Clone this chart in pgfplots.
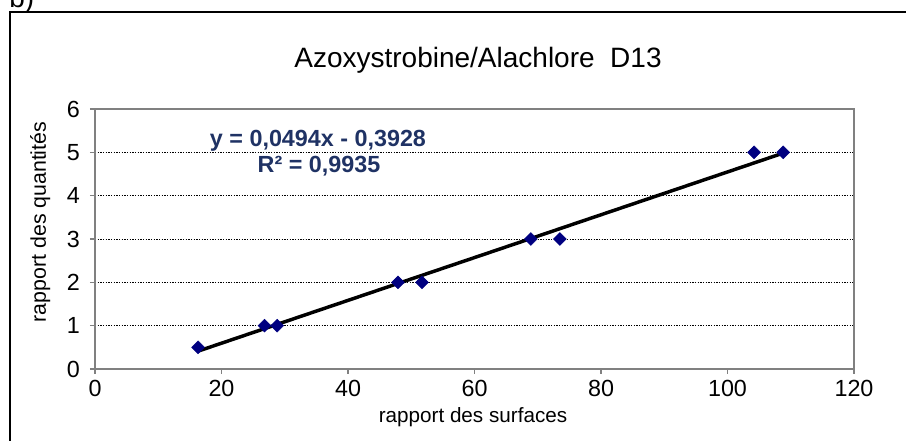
\documentclass[border=0pt]{standalone}
\usepackage{fontspec}
\setmainfont{Liberation Sans}
\usepackage{pgfplots}
\pgfplotsset{compat=1.18}
\definecolor{navy}{RGB}{0,0,128}
\definecolor{eqblue}{RGB}{31,50,100}
\definecolor{axgray}{RGB}{128,128,128}
\begin{document}
\begin{tikzpicture}
\path[use as bounding box] (0,0) rectangle (679.5pt,330.75pt);
\clip (0,0) rectangle (679.5pt,330.75pt);
\draw[black, line width=1pt] (10*0.75pt,429*0.75pt) rectangle (930*0.75pt,-20*0.75pt);
\node[anchor=base west, font=\fontsize{21}{24}\selectfont, inner sep=0pt] at (9*0.75pt,433*0.75pt) {b)};
\begin{axis}[
  at={(71.25pt,54pt)}, anchor=south west,
  scale only axis, width=569.25pt, height=195pt,
  xmin=0, xmax=120, ymin=0, ymax=6,
  xtick={0,20,...,120}, ytick={0,1,...,6},
  axis line style={draw=axgray, line width=1.2pt},
  tick style={draw=axgray, line width=0.8pt},
  major tick length=3.75pt, tick align=outside,
  xtick pos=bottom, ytick pos=left,
  ymajorgrids,
  major grid style={black, line width=0.5pt, dash pattern=on 1pt off 1pt},
  ticklabel style={font=\fontsize{17.5}{20}\selectfont},
  xticklabel style={yshift=-1pt},
  yticklabel style={xshift=-4pt},
  /pgf/number format/assume math mode=true,
  clip=false,
]
\addplot[only marks, mark=square*, mark size=3.4pt, mark options={rotate=45, fill=navy, draw=navy}]
coordinates {(16.3,0.5) (26.8,1) (28.8,1) (47.9,2) (51.7,2) (68.9,3) (73.5,3) (104.2,5) (108.8,5)};
\addplot[black, line width=2.6pt, no marks] coordinates {(16.3,0.4124) (108.8,4.9819)};
\end{axis}
\node[anchor=base, font=\fontsize{21}{24}\selectfont] at (478*0.75pt,373*0.75pt) {Azoxystrobine/Alachlore\ \ D13};
\node[anchor=base, font=\fontsize{17.5}{20}\selectfont\bfseries, text=eqblue] at (318*0.75pt,294*0.75pt) {y = 0,0494x - 0,3928};
\node[anchor=base, font=\fontsize{17.5}{20}\selectfont\bfseries, text=eqblue] at (319*0.75pt,268*0.75pt) {R² = 0,9935};
\node[anchor=base, rotate=90, font=\fontsize{16}{19}\selectfont] at (46*0.75pt,219*0.75pt) {rapport des quantités};
\node[anchor=base, font=\fontsize{15.5}{19}\selectfont] at (473*0.75pt,18*0.75pt) {rapport des surfaces};
\end{tikzpicture}
\end{document}
